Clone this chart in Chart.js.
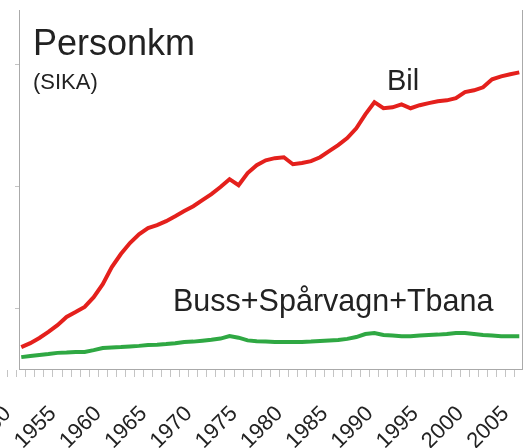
<!DOCTYPE html>
<html>
<head>
<meta charset="utf-8">
<script src="https://cdn.jsdelivr.net/npm/chart.js@4/dist/chart.umd.min.js"></script>
<style>
  html, body { margin: 0; padding: 0; background: #fff; }
  #wrap { width: 529px; height: 448px; }
</style>
</head>
<body>
<div id="wrap"><canvas id="chart"></canvas></div>
<script>
// Personkm per år, miljarder
const AR = [
  1951, 1952, 1953, 1954, 1955, 1956, 1957, 1958, 1959, 1960,
  1961, 1962, 1963, 1964, 1965, 1966, 1967, 1968, 1969, 1970,
  1971, 1972, 1973, 1974, 1975, 1976, 1977, 1978, 1979, 1980,
  1981, 1982, 1983, 1984, 1985, 1986, 1987, 1988, 1989, 1990,
  1991, 1992, 1993, 1994, 1995, 1996, 1997, 1998, 1999, 2000,
  2001, 2002, 2003, 2004, 2005, 2006,
];
const BIL = [
  7.2, 8.5, 10.2, 12.2, 14.4, 17.1, 18.7, 20.4, 23.6, 27.9,
  33.5, 37.8, 41.4, 44.3, 46.3, 47.3, 48.6, 50.2, 51.9, 53.5,
  55.5, 57.5, 59.8, 62.4, 60.4, 64.4, 67.0, 68.6, 69.3, 69.6,
  67.3, 67.7, 68.3, 69.6, 71.6, 73.6, 75.9, 79.1, 83.7, 87.7,
  85.7, 86.0, 87.0, 85.7, 86.7, 87.4, 88.0, 88.3, 89.0, 91.0,
  91.6, 92.6, 95.2, 96.2, 96.9, 97.5,
];
const KOLLEKTIV = [
  3.9, 4.3, 4.6, 4.9, 5.3, 5.4, 5.6, 5.6, 6.2, 6.9,
  7.1, 7.2, 7.4, 7.6, 7.9, 8.0, 8.2, 8.5, 8.9, 9.0,
  9.3, 9.6, 10.0, 10.8, 10.3, 9.4, 9.1, 9.0, 8.9, 8.9,
  8.9, 8.9, 9.0, 9.2, 9.4, 9.5, 9.9, 10.5, 11.5, 11.8,
  11.2, 11.0, 10.8, 10.8, 11.0, 11.2, 11.3, 11.5, 11.8, 11.8,
  11.5, 11.2, 11.0, 10.8, 10.8, 10.8,
];
// årsstreck på x-axeln (årets början), etikett var femte år
const X_TICKS = [
  1950, 1951, 1952, 1953, 1954, 1955, 1956, 1957, 1958, 1959,
  1960, 1961, 1962, 1963, 1964, 1965, 1966, 1967, 1968, 1969,
  1970, 1971, 1972, 1973, 1974, 1975, 1976, 1977, 1978, 1979,
  1980, 1981, 1982, 1983, 1984, 1985, 1986, 1987, 1988, 1989,
  1990, 1991, 1992, 1993, 1994, 1995, 1996, 1997, 1998, 1999,
  2000, 2001, 2002, 2003, 2004, 2005, 2006,
];
const Y_TICKS = [20, 60, 100];

const TITEL = "Personkm";
const KALLA = "(SIKA)";
const ETIKETT_BIL = "Bil";
const ETIKETT_KOLL = "Buss+Spårvagn+Tbana";

const FONT = "'Liberation Sans', Arial, sans-serif";
const GRA = "#aaaaaa";

// texter direkt på diagrammet
const textPlugin = {
  id: "texter",
  afterDraw(chart) {
    const c = chart.ctx;
    c.save();
    c.fillStyle = "#222";
    c.textBaseline = "alphabetic";
    c.font = "36px " + FONT;
    c.fillText(TITEL, 33, 55);
    c.font = "22px " + FONT;
    c.fillText(KALLA, 33, 89);
    c.font = "29px " + FONT;
    c.fillText(ETIKETT_BIL, 387, 90);
    c.font = "30.5px " + FONT;
    c.fillText(ETIKETT_KOLL, 173, 311);
    // högra ramlinjen
    const a = chart.chartArea;
    c.strokeStyle = GRA;
    c.lineWidth = 1;
    c.beginPath();
    c.moveTo(a.right + 0.5, a.top);
    c.lineTo(a.right + 0.5, a.bottom);
    c.stroke();
    c.restore();
  },
};

const serie = (data, farg) => ({
  data: AR.map((ar, i) => ({ x: ar, y: data[i] })),
  borderColor: farg,
  borderWidth: 4,
  pointRadius: 0,
  tension: 0,
  fill: false,
});

new Chart(document.getElementById("chart"), {
  type: "line",
  data: {
    datasets: [serie(BIL, "#e4201c"), serie(KOLLEKTIV, "#2fa843")],
  },
  options: {
    responsive: true,
    maintainAspectRatio: false,
    animation: false,
    layout: { padding: { top: 10, right: 7, left: 0, bottom: 0 } },
    plugins: { legend: { display: false }, tooltip: { enabled: false } },
    scales: {
      x: {
        type: "linear",
        min: 1950.75,
        max: 2006.3,
        afterBuildTicks: (s) => {
          s.ticks = X_TICKS.map((v) => ({ value: v - 0.5 }));
        },
        afterFit: (s) => {
          s.height = 79;
          s.paddingLeft = 0;
          s.paddingRight = 0;
        },
        grid: { drawOnChartArea: false, tickLength: 8, color: "#c4c4c4" },
        border: { color: GRA, width: 1 },
        ticks: {
          autoSkip: false,
          minRotation: 45,
          maxRotation: 45,
          padding: 24,
          color: "#222",
          font: { family: FONT, size: 22 },
          callback: (v) => {
            const ar = Math.round(v + 0.5);
            return ar % 5 === 0 ? String(ar) : "";
          },
        },
      },
      y: {
        min: 0,
        max: 118,
        afterBuildTicks: (s) => {
          s.ticks = Y_TICKS.map((v) => ({ value: v }));
        },
        afterFit: (s) => {
          s.width = 19;
        },
        grid: { drawOnChartArea: false, tickLength: 4, color: "#c4c4c4" },
        border: { color: GRA, width: 1 },
        ticks: { display: false },
      },
    },
  },
  plugins: [textPlugin],
});
</script>
</body>
</html>
